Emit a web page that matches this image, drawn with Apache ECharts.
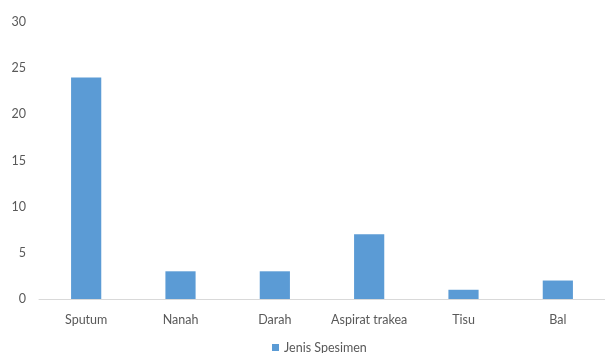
<!DOCTYPE html>
<html><head><meta charset="utf-8">
<script src="https://cdn.jsdelivr.net/npm/echarts@6/dist/echarts.min.js"></script>
<style>html,body{margin:0;padding:0;background:#fff}#c{width:605px;height:353px}</style>
</head><body><div id="c"></div>
<script>
const categories = ["Sputum","Nanah","Darah","Aspirat trakea","Tisu","Bal"];
const values = [24,3,3,7,1,2];
const seriesName = "Jenis Spesimen";
const chart = echarts.init(document.getElementById('c'));
chart.setOption({
  animation:false,
  textStyle:{fontFamily:"Lato, 'Open Sans', sans-serif"},
  grid:{left:39,right:-4,top:22,bottom:54,containLabel:false},
  legend:{bottom:-6,left:267,itemWidth:7,itemHeight:7,icon:'rect',itemGap:5,
    textStyle:{color:'#595959',fontSize:12.5},data:[seriesName]},
  xAxis:{type:'category',data:categories,
    axisLine:{lineStyle:{color:'#d9d9d9'}},axisTick:{show:false},
    axisLabel:{color:'#595959',fontSize:12.5,margin:14,interval:0}},
  yAxis:{type:'value',min:0,max:30,interval:5,
    splitLine:{show:false},axisLine:{show:false},axisTick:{show:false},
    axisLabel:{color:'#595959',fontSize:12.5,margin:13}},
  series:[{name:seriesName,type:'bar',data:values,barWidth:'32%',
    itemStyle:{color:'#5b9bd5'}}]
});
</script></body></html>
